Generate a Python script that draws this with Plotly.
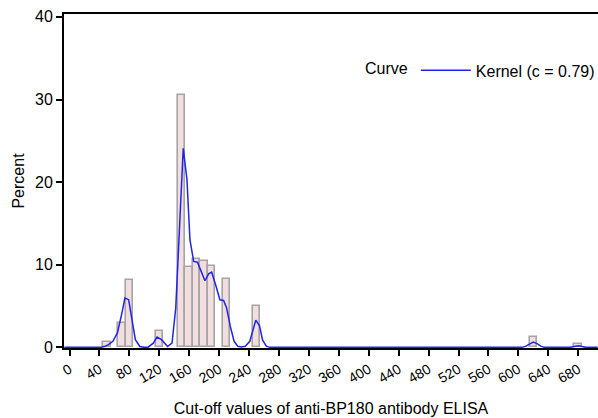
import plotly.graph_objects as go

# Histogram bins (centers, width 10) and percents
bin_centers = [50, 70, 80, 120, 150, 160, 170, 180, 190, 210, 250, 620, 680]
bin_percent = [0.6, 3.0, 8.1, 2.0, 30.5, 9.7, 10.7, 10.4, 9.8, 8.3, 5.0, 1.2, 0.4]
bin_width = 10

# Kernel density curve (percent scale)
kernel_x = [-7, 0, 10, 20, 30, 40, 43, 48, 52, 58, 64, 70, 74, 79, 83, 88, 94, 100,
            105, 112, 117, 123, 131, 137, 142, 147, 152, 157, 161, 166, 171, 176,
            181, 186, 190, 196, 201, 206, 210, 215, 220, 225, 230, 235, 241, 245,
            249, 254, 258, 263, 268, 300, 400, 500, 600, 605, 610, 615, 620, 625,
            630, 635, 665, 670, 675, 680, 685, 690, 706]
kernel_y = [0, 0, 0, 0, 0, 0, 0.02, 0.15, 0.33, 0.73, 1.74, 4.15, 5.97, 5.77, 3.35,
            0.93, 0.1, 0.0, 0.02, 0.5, 1.25, 0.93, 0.1, 0.5, 4.76, 14.6, 24.1, 20.3,
            13.0, 10.4, 10.3, 9.2, 8.06, 8.9, 9.1, 7.37, 5.76, 5.68, 4.76, 2.5, 0.73,
            0.12, 0.05, 0.12, 0.73, 2.0, 3.3, 2.6, 0.9, 0.15, 0, 0, 0, 0, 0, 0, 0.15,
            0.45, 0.65, 0.45, 0.15, 0, 0, 0, 0.1, 0.2, 0.1, 0, 0]

x_ticks = list(range(0, 681, 40))
y_ticks = [0, 10, 20, 30, 40]

FONT = "Liberation Sans, Arial, Helvetica, sans-serif"

fig = go.Figure()
fig.add_trace(go.Bar(
    x=bin_centers, y=bin_percent, width=bin_width,
    marker=dict(color="rgb(242,222,222)", line=dict(color="rgb(165,165,165)", width=1.6)),
    showlegend=False, hoverinfo="x+y",
))
fig.add_trace(go.Scatter(
    x=kernel_x, y=kernel_y, mode="lines", name="Kernel (c = 0.79)",
    line=dict(color="rgb(35,35,230)", width=1.5), cliponaxis=False,
))

fig.update_layout(
    width=598, height=418,
    margin=dict(l=64, r=0, t=14, b=70, autoexpand=False),
    plot_bgcolor="white", paper_bgcolor="white",
    font=dict(family=FONT, size=15, color="black"),
    bargap=0,
    legend=dict(
        title=dict(text="Curve", side="left", font=dict(size=16)),
        font=dict(size=16),
        itemwidth=50,
        x=0.56, y=0.831, xanchor="left", yanchor="middle",
        bgcolor="rgba(0,0,0,0)",
    ),
    xaxis=dict(
        range=[-7.4, 706.5], automargin=False,
        tickmode="array", tickvals=x_ticks, ticktext=[str(v) for v in x_ticks],
        tickangle=-30, ticks="outside", ticklen=6, tickwidth=2, tickcolor="black",
        showline=True, linecolor="black", linewidth=2, mirror=True,
        showgrid=False, zeroline=False,
        tickfont=dict(size=14),
        title=dict(text="Cut-off values of anti-BP180 antibody ELISA", font=dict(size=16), standoff=18),
    ),
    yaxis=dict(
        range=[-0.08, 40.35], automargin=False,
        tickmode="array", tickvals=y_ticks,
        ticks="outside", ticklen=6, tickwidth=2, tickcolor="black",
        showline=True, linecolor="black", linewidth=2,
        showgrid=False, zeroline=False,
        tickfont=dict(size=16),
        title=dict(text="Percent", font=dict(size=16), standoff=6),
    ),
)

fig.write_html("out.html", config={"displayModeBar": False},
               post_script="document.body.style.margin='0';")
